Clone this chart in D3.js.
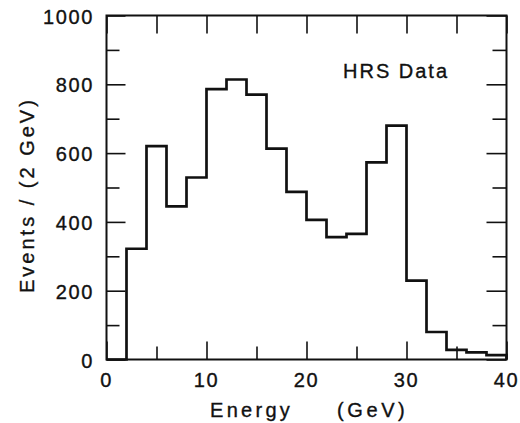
<!DOCTYPE html>
<html>
<head>
<meta charset="utf-8">
<script src="https://cdn.jsdelivr.net/npm/d3@7"></script>
<style>
  body { margin: 0; background: #fff; }
  text { font-family: "Liberation Sans", Arial, sans-serif; fill: #111; stroke: #111; stroke-width: 0.35; }
</style>
</head>
<body>
<script>
const w = 520;
const h = 423;

// bin lower edges (GeV) and counts per 2 GeV
const binStarts = [0, 2, 4, 6, 8, 10, 12, 14, 16, 18, 20, 22, 24, 26, 28, 30, 32, 34, 36, 38];
const counts = [0, 322, 620, 445, 529, 786, 814, 770, 613, 487, 406, 356, 365, 573, 680, 229, 80, 28, 21, 13];
const xMajor = [0, 10, 20, 30, 40];
const xMinor = [5, 15, 25, 35];
const yMajor = [0, 200, 400, 600, 800, 1000];
const yMinor = [100, 300, 500, 700, 900];

const pLeft = 106.5, pRight = 506.5, pTop = 15.5, pBottom = 359.5;

const svg = d3.select("body")
    .append("svg")
    .attr("width", w)
    .attr("height", h)
    ;

const xScale = d3.scaleLinear().domain([0, 40]).range([pLeft, pRight]);
const yScale = d3.scaleLinear().domain([0, 1000]).range([pBottom, pTop]);

// ticks (all pointing inward)
function ticks(axis, pos, len, vals) {
    const g = svg.append("g")
        .attr("transform", pos)
        .call(axis.tickValues(vals).tickSize(len).tickFormat(""));
    g.select(".domain").remove();
    g.selectAll("line").attr("stroke", "#111").attr("stroke-width", 1.6);
}
ticks(d3.axisBottom(xScale), `translate(0,${pBottom})`, -18, xMajor);
ticks(d3.axisBottom(xScale), `translate(0,${pBottom})`, -13, xMinor);
ticks(d3.axisTop(xScale), `translate(0,${pTop})`, -18, xMajor.concat(xMinor));
ticks(d3.axisLeft(yScale), `translate(${pLeft},0)`, -19, yMajor);
ticks(d3.axisLeft(yScale), `translate(${pLeft},0)`, -13, yMinor);
ticks(d3.axisRight(yScale), `translate(${pRight},0)`, -20, yMajor);
ticks(d3.axisRight(yScale), `translate(${pRight},0)`, -14, yMinor);

// frame
svg.append("rect")
    .attr("x", pLeft).attr("y", pTop)
    .attr("width", pRight - pLeft).attr("height", pBottom - pTop)
    .attr("fill", "none").attr("stroke", "#111").attr("stroke-width", 2)
    ;

// histogram
let pts = binStarts.map((b, i) => [b, counts[i]]);
pts.push([40, counts[counts.length - 1]]);
pts.push([40, 0]);
const line = d3.line()
    .x(d => xScale(d[0]))
    .y(d => yScale(d[1]))
    .curve(d3.curveStepAfter)
    ;
svg.append("path")
    .attr("d", line(pts))
    .attr("fill", "none")
    .attr("stroke", "#111")
    .attr("stroke-width", 2.7)
    ;

// tick labels
svg.selectAll(".ylab")
    .data(yMajor)
    .enter()
    .append("text")
    .attr("x", 94)
    .attr("y", d => yScale(d) + 8)
    .attr("text-anchor", "end")
    .attr("font-size", 20)
    .attr("letter-spacing", 1.6)
    .text(d => d)
    ;
svg.selectAll(".xlab")
    .data(xMajor)
    .enter()
    .append("text")
    .attr("x", d => xScale(d))
    .attr("y", 387)
    .attr("text-anchor", "middle")
    .attr("font-size", 20)
    .attr("letter-spacing", 1.6)
    .text(d => d)
    ;

// axis titles
svg.append("text")
    .attr("x", 210).attr("y", 417)
    .attr("font-size", 20).attr("letter-spacing", 3.3)
    .text("Energy");
svg.append("text")
    .attr("x", 337).attr("y", 417)
    .attr("font-size", 20).attr("letter-spacing", 3.6)
    .text("(GeV)");
svg.append("text")
    .attr("transform", "translate(34,293) rotate(-90)")
    .attr("font-size", 20).attr("letter-spacing", 3)
    .text("Events / (2 GeV)");

svg.append("text")
    .attr("x", 343).attr("y", 78)
    .attr("font-size", 20).attr("letter-spacing", 2)
    .text("HRS Data");
</script>
</body>
</html>
